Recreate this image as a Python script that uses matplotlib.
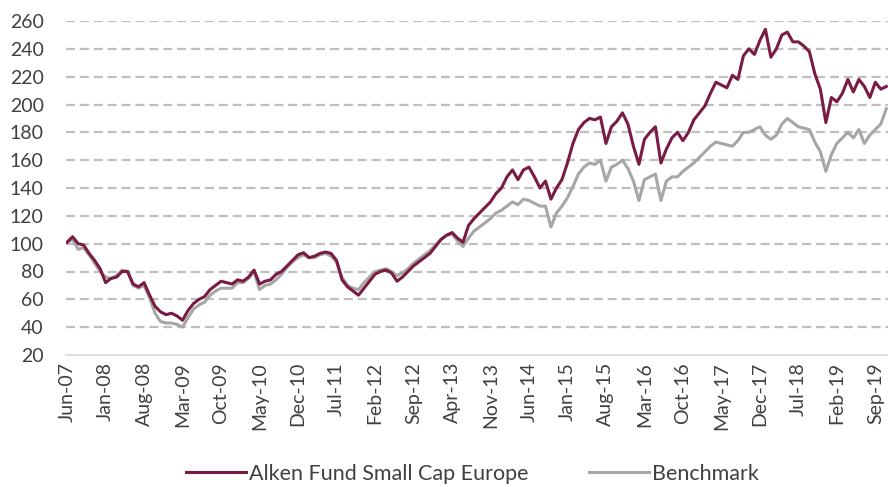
import matplotlib.pyplot as plt

# Monatswerte Jun-07 .. Nov-19 (Index 0 = Jun-07)
fonds = [101, 105, 100, 99, 93, 88, 82, 72, 75, 76,
         80, 80, 71, 69, 72, 63, 55, 51, 49, 50,
         48, 45, 52, 57, 60, 62, 67, 70, 73, 72,
         71, 74, 73, 76, 81, 71, 73, 74, 78, 80,
         84, 88, 92, 93.5, 90, 91, 93, 94, 93, 88,
         74, 69, 66, 63, 68, 73, 78, 80, 81, 79,
         73, 76, 80, 84, 87, 90, 93, 98, 103, 106,
         108, 104, 101, 113, 118, 122, 126, 130, 136, 140,
         148, 153, 146, 153, 155, 148, 140, 145, 132, 140,
         146, 158, 172, 182, 187, 190, 189, 191, 172, 184,
         188, 194, 186, 170, 157, 175, 180, 184, 158, 168,
         176, 180, 174, 180, 189, 194, 199, 208, 216, 214,
         212, 221, 218, 235, 240, 236, 246, 254, 234, 240,
         250, 252, 245, 245, 242, 238, 222, 211, 187, 205,
         202, 208, 218, 209, 218, 213, 205, 216, 211, 213]

benchmark = [101, 103, 96, 97, 92, 86, 80, 76, 75, 77,
             81, 80, 70, 68, 70, 61, 50, 44, 43, 43,
             42, 40, 47, 53, 56, 58, 63, 66, 68, 68,
             68, 72, 72, 75, 80, 67, 70, 71, 74, 78,
             83, 87, 90, 92, 90, 90, 92, 93, 91, 87,
             76, 70, 68, 67, 72, 76, 80, 81, 82, 80,
             77, 79, 82, 86, 89, 92, 95, 99, 103, 106,
             107, 102, 98, 104, 109, 112, 115, 118, 122, 124,
             127, 130, 128, 132, 131, 129, 127, 127, 112, 122,
             127, 133, 141, 150, 155, 158, 157, 160, 145, 155,
             157, 160, 154, 145, 131, 146, 148, 150, 131, 145,
             148, 148, 152, 155, 158, 162, 166, 170, 173, 172,
             171, 170, 174, 180, 180, 182, 184, 178, 175, 178,
             186, 190, 187, 184, 183, 182, 173, 166, 152, 164,
             172, 176, 180, 176, 182, 172, 178, 182, 186, 197]

labels = ['Jun-07', 'Jan-08', 'Aug-08', 'Mar-09', 'Oct-09', 'May-10', 'Dec-10',
          'Jul-11', 'Feb-12', 'Sep-12', 'Apr-13', 'Nov-13', 'Jun-14', 'Jan-15',
          'Aug-15', 'Mar-16', 'Oct-16', 'May-17', 'Dec-17', 'Jul-18', 'Feb-19',
          'Sep-19']

yticks = [20, 40, 60, 80, 100, 120, 140, 160, 180, 200, 220, 240, 260]

plt.rcParams['font.family'] = ['Lato', 'DejaVu Sans']
plt.rcParams['lines.scale_dashes'] = False

fig = plt.figure(figsize=(8.88, 4.87), dpi=100)
ax = fig.add_axes([66 / 888, 1 - 355 / 487, 822 / 888, 334 / 487])

x = list(range(len(fonds)))
ax.plot(x, benchmark, color='#a6a6a6', lw=2.2, label='Benchmark', zorder=3)
ax.plot(x, fonds, color='#7a1b43', lw=2.2, label='Alken Fund Small Cap Europe', zorder=4)

ax.set_ylim(20, 260)
ax.set_xlim(-0.2, 149.3)
ax.set_yticks(yticks)
ax.set_xticks(range(0, 7 * len(labels), 7))
ax.set_xticklabels(labels, rotation=90)

for v in yticks[1:]:
    ax.axhline(v, color='#bfbfbf', lw=1.6, dashes=(6.5, 3.5), zorder=1)

for s in ['top', 'right', 'left']:
    ax.spines[s].set_visible(False)
ax.spines['bottom'].set_color('#d9d9d9')
ax.spines['bottom'].set_linewidth(1.2)
ax.tick_params(length=0, labelsize=14, labelcolor='#404040')
ax.tick_params(axis='y', pad=16)
ax.tick_params(axis='x', pad=5)

h, l = ax.get_legend_handles_labels()
fig.legend(h[::-1], l[::-1], loc='center', bbox_to_anchor=(0.532, 0.027), ncol=2,
           frameon=False, fontsize=15.5, handlelength=2.8, columnspacing=2.8,
           handletextpad=0.15, labelcolor='#404040')

plt.savefig('out.png', dpi=100)
